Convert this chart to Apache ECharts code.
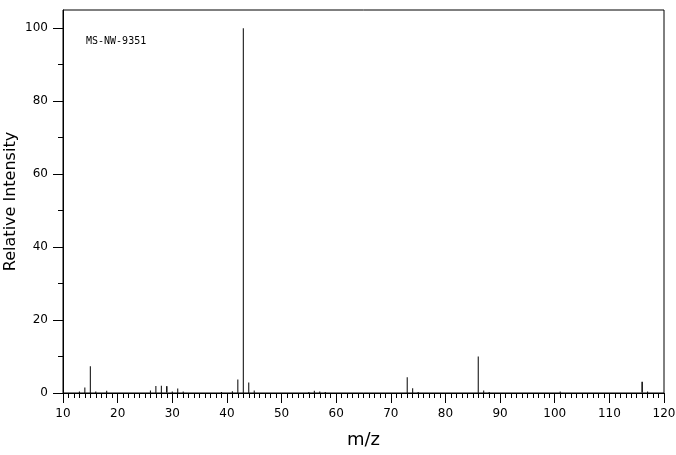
<!DOCTYPE html>
<html>
<head>
<meta charset="utf-8">
<script src="https://cdn.jsdelivr.net/npm/echarts@6/dist/echarts.min.js"></script>
<style>html,body{margin:0;padding:0;background:#fff}#c{width:676px;height:455px}</style>
</head>
<body>
<div id="c"></div>
<script>
var mz = [13,14,15,16,18,26,27,28,29,30,31,32,39,41,42,43,44,45,55,56,57,58,73,74,75,86,87,88,101,116,117];
var intensity = [0.4,1.5,7.3,0.4,0.6,0.7,1.9,2.0,2.0,0.4,1.2,0.4,0.3,0.5,3.7,100,2.9,0.7,0.3,0.6,0.4,0.3,4.3,1.3,0.3,10.0,0.7,0.3,0.4,3.2,0.4];
var thickPeaks = [29,116];
var yMajor = [0,20,40,60,80,100];
var yMinor = [10,30,50,70,90];
var sampleLabel = 'MS-NW-9351';

var data = mz.map(function(m,i){
  var d = {value:[m,intensity[i]]};
  if (thickPeaks.indexOf(m) >= 0) d.itemStyle = {borderColor:'#000', borderWidth:1};
  return d;
});
var font = 'DejaVu Sans';
var chart = echarts.init(document.getElementById('c'), null, {renderer:'canvas'});
chart.setOption({
  animation:false,
  backgroundColor:'#fff',
  grid:{left:63,right:12,top:10,bottom:62,containLabel:false,outerBoundsMode:'none',show:true,borderColor:'#000',borderWidth:1,backgroundColor:'transparent'},
  graphic:[{type:'text',left:86,top:36,style:{text:sampleLabel,font:'10px "DejaVu Sans Mono"',fill:'#000'}}],
  xAxis:{type:'value',min:10,max:120,interval:10,
    name:'m/z',nameLocation:'middle',nameGap:38,nameMoveOverlap:false,nameTextStyle:{fontFamily:font,fontSize:18,color:'#000'},
    axisLine:{show:true,onZero:false,lineStyle:{color:'#000',width:1}},
    axisTick:{show:true,length:10,lineStyle:{color:'#000'}},
    minorTick:{show:true,splitNumber:10,length:5,lineStyle:{color:'#000'}},
    axisLabel:{fontFamily:font,fontSize:12,color:'#000',margin:15},
    splitLine:{show:false},minorSplitLine:{show:false}},
  yAxis:[{type:'value',min:0,max:105,
    name:'Relative Intensity',nameLocation:'middle',nameGap:44,nameMoveOverlap:false,nameTextStyle:{fontFamily:font,fontSize:16,color:'#000'},
    axisLine:{show:true,lineStyle:{color:'#000',width:1}},
    axisTick:{show:true,length:10,customValues:yMajor,lineStyle:{color:'#000'}},
    axisLabel:{fontFamily:font,fontSize:12,color:'#000',margin:15,customValues:yMajor},
    splitLine:{show:false}},
   {type:'value',min:0,max:105,position:'left',
    axisLine:{show:false},
    axisTick:{show:true,length:5,customValues:yMinor,lineStyle:{color:'#000'}},
    axisLabel:{show:false},splitLine:{show:false}}],
  series:[{type:'bar',data:data,barWidth:1,itemStyle:{color:'#000'},silent:true}]
});
</script>
</body>
</html>
